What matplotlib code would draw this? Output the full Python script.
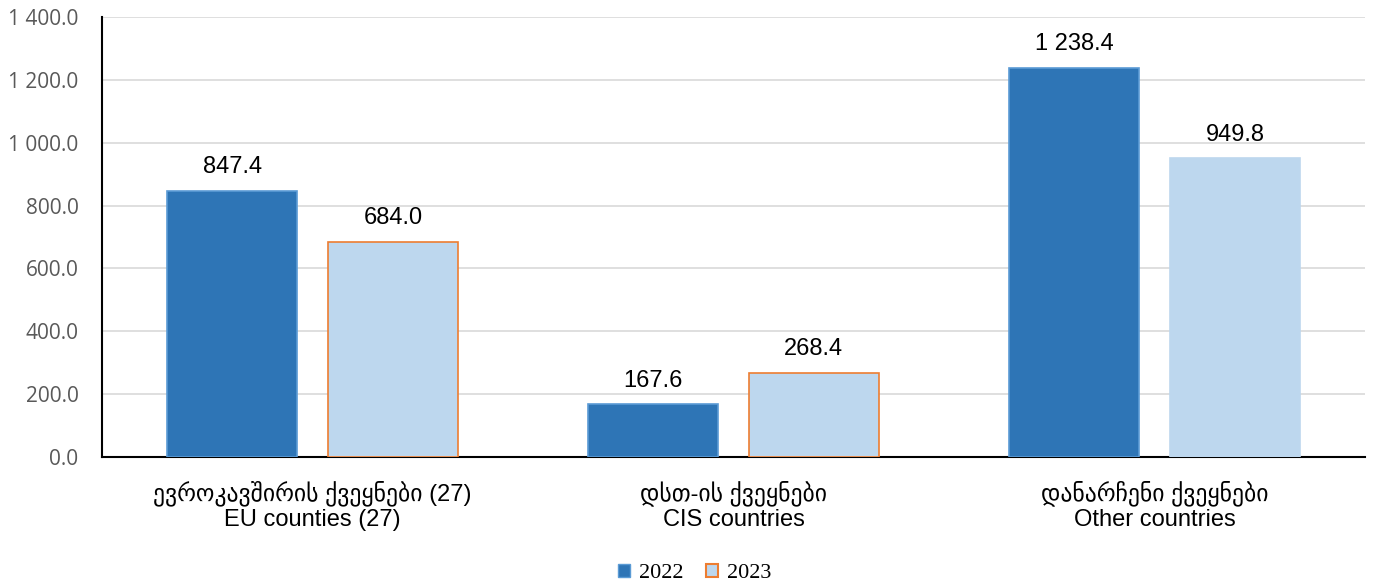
import numpy as np
import matplotlib.pyplot as plt
from matplotlib.patches import Patch

# data
categories = ["ევროკავშირის ქვეყნები (27)\nEU counties (27)",
              "დსთ-ის ქვეყნები\nCIS countries",
              "დანარჩენი ქვეყნები\nOther countries"]
years = ["2022", "2023"]
vals_2022 = [847.4, 167.6, 1238.4]
vals_2023 = [684.0, 268.4, 949.8]


def fmt(v):
    return "{:,.1f}".format(v).replace(",", " ")


fig = plt.figure(figsize=(13.75, 5.84), dpi=100)
ax = fig.add_axes([0.0742, 0.2175, 0.9185, 0.7534])

x = np.arange(len(categories))
w = 0.309
off = 0.191

b1 = ax.bar(x - off, vals_2022, w, color="#2e75b6", edgecolor="#5b9bd5", linewidth=1.2, zorder=3)
edges_2023 = ["#ed7d31", "#ed7d31", "#bdd7ee"]
b2 = ax.bar(x + off, vals_2023, w, color="#bdd7ee", edgecolor=edges_2023, linewidth=1.2, zorder=3)

for rects, vals in ((b1, vals_2022), (b2, vals_2023)):
    for r, v in zip(rects, vals):
        ax.text(r.get_x() + r.get_width() / 2, v + 40, fmt(v), ha="center", va="bottom",
                fontsize=17, family=["Liberation Sans", "DejaVu Sans"], color="black")

ax.set_xlim(-0.5, 2.5)
ax.set_ylim(0, 1400)
ax.set_yticks(np.arange(0, 1401, 200))
ax.set_yticklabels([fmt(v) for v in np.arange(0, 1401, 200)], fontsize=15,
                   color="#595959", family=["Open Sans", "DejaVu Sans"])
ax.set_xticks(x)
ax.set_xticklabels(categories, fontsize=17, family=["Liberation Sans", "DejaVu Sans"],
                   linespacing=1.15)
ax.tick_params(axis="x", length=0, pad=17)
ax.tick_params(axis="y", length=0, pad=17)

ax.grid(axis="y", color="#d9d9d9", linewidth=1.2, zorder=0)
for s in ["top", "right"]:
    ax.spines[s].set_visible(False)
ax.spines["left"].set_color("black")
ax.spines["bottom"].set_color("black")
ax.spines["left"].set_linewidth(1.5)
ax.spines["bottom"].set_linewidth(1.5)

handles = [Patch(facecolor="#2e75b6", edgecolor="#5b9bd5"),
           Patch(facecolor="#bdd7ee", edgecolor="#ed7d31", linewidth=1.5)]
fig.legend(handles, years, loc="center", bbox_to_anchor=(0.505, 0.018), ncol=2, frameon=False,
           prop={"family": "Liberation Serif", "size": 16}, handlelength=0.55, handleheight=0.55,
           handletextpad=0.4, columnspacing=1.0)

fig.savefig("out.png", dpi=100)
